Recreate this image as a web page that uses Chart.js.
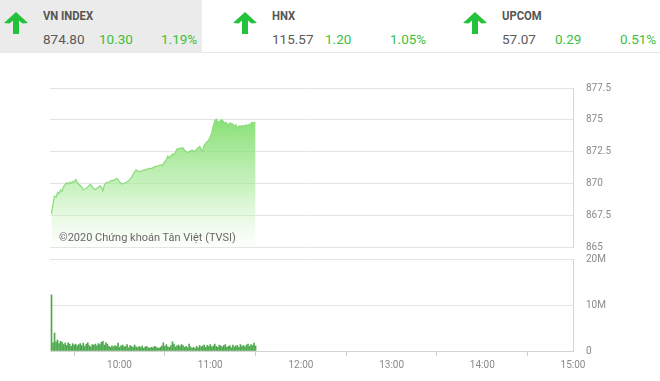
<!DOCTYPE html>
<html>
<head>
<meta charset="utf-8">
<script src="https://cdn.jsdelivr.net/npm/chart.js@4/dist/chart.umd.min.js"></script>
<style>
  html,body{margin:0;padding:0;background:#fff;width:660px;height:381px;overflow:hidden;font-family:Roboto,"Noto Sans",sans-serif;}
  .panel{position:absolute;top:0;height:53px;}
  .name{position:absolute;top:8px;font-size:12.5px;font-weight:bold;color:#555;transform:scaleX(0.9);transform-origin:left center;}
  .num{position:absolute;top:31px;font-size:13.5px;color:#5a5a5a;}
  .g{color:#3cbf3c;}
  .arrow{position:absolute;top:12px;}
  #wm{position:absolute;left:59px;top:231px;font-size:11px;color:#666;}
  canvas{position:absolute;left:0;}
</style>
</head>
<body>
<div class="panel" style="left:0;width:202px;background:#ebebeb;"></div>
<div class="panel" style="left:202px;width:458px;border-bottom:1px solid #e6e6e6;height:52px;"></div>
<div id="hdr"></div>
<canvas id="price" width="660" height="173" style="top:80px;width:660px;height:173px;"></canvas>
<canvas id="vol" width="660" height="129" style="top:252px;width:660px;height:129px;"></canvas>
<div id="wm">©2020 Chứng khoán Tân Việt (TVSI)</div>
<script>
// ---- header data ----
const indexNames = ["VN INDEX", "HNX", "UPCOM"];
const indexValues = ["874.80", "115.57", "57.07"];
const indexChanges = ["10.30", "1.20", "0.29"];
const indexPercents = ["1.19%", "1.05%", "0.51%"];

// ---- intraday price (VN-Index) ----
const priceTimes = ["9:15","9:16","9:17","9:18","9:19","9:20","9:21","9:22","9:23","9:24","9:25","9:26","9:27","9:28","9:29","9:30","9:31","9:32","9:33","9:35","9:36","9:38","9:40","9:41","9:42","9:44","9:45","9:47","9:48","9:49","9:50","9:51","9:53","9:55","9:56","9:58","9:59","10:00","10:02","10:04","10:06","10:08","10:10","10:11","10:12","10:14","10:16","10:18","10:20","10:21","10:23","10:25","10:27","10:28","10:30","10:31","10:32","10:33","10:35","10:36","10:38","10:40","10:42","10:43","10:45","10:46","10:48","10:50","10:51","10:53","10:54","10:55","10:56","10:58","10:59","11:01","11:02","11:03","11:04","11:05","11:06","11:07","11:08","11:09","11:10","11:11","11:12","11:13","11:14","11:15","11:16","11:17","11:18","11:19","11:20","11:21","11:22","11:24","11:25","11:26","11:27","11:28","11:29","11:30"];
const priceValues = [867.6,868.4,869.0,868.9,869.3,869.2,869.5,869.4,869.75,869.9,870.05,869.95,870.1,870.0,870.15,870.1,870.3,870.1,869.95,869.7,869.5,869.6,869.85,869.9,869.7,869.5,869.6,869.8,869.7,869.4,869.9,870.05,870.1,870.25,870.2,870.4,870.3,870.1,869.95,870.05,870.2,870.5,870.9,871.05,870.95,870.95,871.05,871.1,871.2,871.15,871.3,871.35,871.45,871.4,871.7,871.9,872.15,872.0,872.3,872.25,872.7,872.75,872.8,872.6,872.4,872.5,872.6,872.5,872.7,872.9,872.7,872.55,873.0,873.3,873.4,873.95,874.5,874.9,875.05,874.8,874.85,874.95,875.0,874.75,874.8,874.7,874.6,874.75,874.7,874.65,874.5,874.6,874.35,874.5,874.45,874.55,874.5,874.6,874.55,874.65,874.7,874.8,874.75,874.8];

// ---- per-minute volume (millions of shares), from 9:15 ----
const volumeStart = "9:15";
const volumeValues = [12.2,1.8,3.9,2.0,2.4,1.6,2.1,1.9,1.4,1.7,1.2,1.8,1.5,1.0,1.6,1.3,1.5,1.1,1.4,1.6,1.2,1.7,1.0,1.5,1.8,1.2,0.9,1.4,1.3,1.5,1.1,1.6,1.4,1.9,2.1,1.3,1.8,1.5,1.0,0.8,1.1,0.9,1.2,1.0,1.7,0.8,1.1,1.3,0.9,1.0,1.4,0.7,1.2,1.0,0.8,1.3,0.9,0.7,1.0,0.8,1.1,0.6,0.9,1.0,0.7,0.6,0.8,0.7,1.0,0.9,0.7,0.6,0.8,1.1,1.8,1.0,1.4,0.9,0.8,1.2,2.0,1.5,0.9,1.1,1.3,1.0,1.4,1.2,0.8,1.0,0.7,1.5,0.9,0.6,0.8,0.5,1.0,0.7,1.2,0.9,1.1,1.3,0.8,1.2,1.0,1.4,0.9,1.1,1.5,1.0,0.8,1.3,1.1,0.9,1.2,1.4,0.8,1.0,1.2,0.7,1.3,0.9,1.1,1.2,0.8,1.4,1.0,1.2,0.9,1.3,1.5,1.0,1.4,1.2,1.7,1.1];

// ---- axes ----
const timeTicks = ["10:00","11:00","12:00","13:00","14:00","15:00"];
const priceTicks = [865, 867.5, 870, 872.5, 875, 877.5];
const volumeTicks = [0, 10, 20];

// ---------- build header ----------
const toMin = t => { const [h,m] = t.split(":").map(Number); return h*60+m; };
const fromMin = v => Math.floor(v/60) + ":" + String(v%60).padStart(2,"0");
const hdr = document.getElementById("hdr");
const panelLeft = [0, 229, 459];
indexNames.forEach((n,i)=>{
  const L = panelLeft[i];
  const ax = L + 4;
  hdr.insertAdjacentHTML("beforeend",
   `<svg class="arrow" style="left:${ax}px" width="24" height="22" viewBox="0 0 24 22">
      <path d="M12 0 L24 11 L18.5 11.5 L15 8.5 L15 22 L9 22 L9 8.5 L5.5 11.5 L0 11 Z" fill="#22c23a"/>
    </svg>
    <div class="name" style="left:${L+43}px">${n}</div>
    <div class="num" style="left:${L+43}px">${indexValues[i]}</div>
    <div class="num g" style="left:${L+(i===0?99:96)}px">${indexChanges[i]}</div>
    <div class="num g" style="left:${L+161}px">${indexPercents[i]}</div>`);
});

// ---------- charts ----------
const xMin = toMin("9:14"), xMax = toMin("15:00");
const tickFont = {family:"Roboto, 'Noto Sans', sans-serif", size:10};
const tickColor = "#8a8a8a";
const gridColor = "#e4e4e4";
const noPadV = s => { s.width = 87; s.paddingTop = 0; s.paddingBottom = 0; };

new Chart(document.getElementById("price"), {
  type: "line",
  data: {
    datasets: [{
      data: priceTimes.map((t,i)=>({x: toMin(t), y: priceValues[i]})),
      borderColor: "#8fdc7f",
      borderWidth: 1.3,
      pointRadius: 0,
      tension: 0,
      fill: "start",
      backgroundColor: (ctx) => {
        const ca = ctx.chart.chartArea;
        if (!ca) return "rgba(130,220,110,0.5)";
        const g = ctx.chart.ctx.createLinearGradient(0, ca.top + 30, 0, ca.bottom);
        g.addColorStop(0, "rgba(128,222,108,0.95)");
        g.addColorStop(0.55, "rgba(160,232,145,0.55)");
        g.addColorStop(1, "rgba(200,242,190,0.05)");
        return g;
      }
    }]
  },
  options: {
    responsive: false, animation: false,
    layout: {padding: {left: 50, top: 8, bottom: 6, right: 0}},
    plugins: {legend: {display: false}, tooltip: {enabled: false}},
    scales: {
      x: {type: "linear", min: xMin, max: xMax, display: false},
      y: {
        position: "right", min: 865, max: 877.5,
        afterBuildTicks: ax => { ax.ticks = priceTicks.map(v=>({value:v})); },
        afterFit: noPadV,
        ticks: {font: tickFont, color: tickColor, padding: 13, callback: v => String(v)},
        grid: {color: gridColor, drawTicks: false},
        border: {display: true, color: "#d4d4d4"}
      }
    }
  }
});

new Chart(document.getElementById("vol"), {
  type: "bar",
  data: {
    datasets: [{
      data: volumeValues.map((v,i)=>({x: toMin(volumeStart)+i, y: v})),
      backgroundColor: "#4ea84e",
      borderWidth: 0,
      barThickness: 1
    }]
  },
  options: {
    responsive: false, animation: false,
    layout: {padding: {left: 50, top: 7, bottom: 0, right: 0}},
    plugins: {legend: {display: false}, tooltip: {enabled: false}},
    scales: {
      x: {
        type: "linear", min: xMin, max: xMax, offset: false,
        afterBuildTicks: ax => { ax.ticks = timeTicks.map(t=>({value: toMin(t)})); },
        afterFit: s => { s.height = 30; s.paddingLeft = 0; s.paddingRight = 0; },
        ticks: {font: tickFont, color: tickColor, padding: 3, maxRotation: 0, autoSkip: false, callback: v => fromMin(v)},
        grid: {drawOnChartArea: false, drawTicks: true, tickLength: 5, color: "#cfcfcf"},
        border: {display: true, color: "#d4d4d4"}
      },
      y: {
        position: "right", min: 0, max: 20,
        afterBuildTicks: ax => { ax.ticks = volumeTicks.map(v=>({value:v})); },
        afterFit: noPadV,
        ticks: {font: tickFont, color: tickColor, padding: 13, callback: v => v === 0 ? "0" : v + "M"},
        grid: {color: gridColor, drawTicks: false},
        border: {display: true, color: "#d4d4d4"}
      }
    }
  }
});
</script>
</body>
</html>
